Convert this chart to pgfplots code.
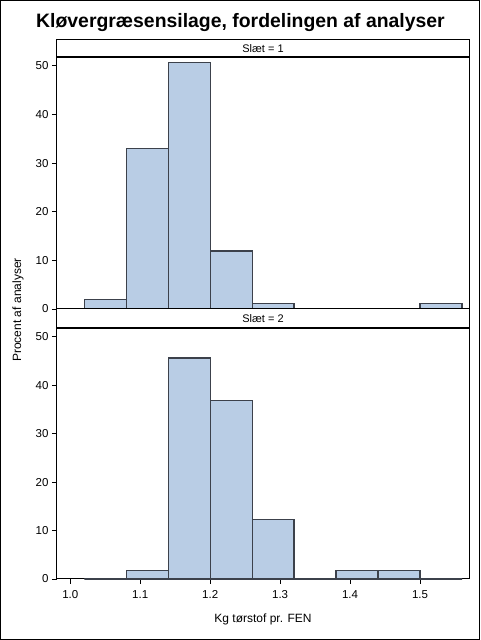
\documentclass[border=0pt]{standalone}
\usepackage{fontspec}
\setmainfont{Liberation Sans}
\usepackage{pgfplots}
\pgfplotsset{compat=1.18}
\definecolor{barfill}{RGB}{185,205,229}
\definecolor{barline}{RGB}{60,65,75}
\pgfplotsset{panel/.style={
  scale only axis, width=412pt, anchor=south west,
  xmin=0.981, xmax=1.570, ymin=0, ymax=51.8,
  axis line style={line width=1pt, black},
  ytick={0,10,20,30,40,50},
  tick align=outside, ytick pos=left, xtick pos=bottom,
  major tick length=5pt,
  tick style={black, line width=0.8pt},
  ticklabel style={font=\fontsize{11.5}{13}\selectfont},
  /pgf/number format/assume math mode=true,
  clip=false,
}}
\begin{document}
\begin{tikzpicture}
\useasboundingbox (0pt,0pt) rectangle (480pt,640pt);
\draw[line width=1pt] (0.5pt,0.5pt) rectangle (479.5pt,639.5pt);
\node[font=\bfseries\fontsize{19.4}{22}\selectfont, anchor=base] at (240.5pt,612pt) {Kløvergræsensilage, fordelingen af analyser};
\node[font=\fontsize{12}{14}\selectfont, rotate=90] at (18pt,330pt) {Procent af analyser};
\node[font=\fontsize{12}{14}\selectfont, anchor=base] at (263pt,17pt) {Kg tørstof pr. FEN};

% top panel
\begin{axis}[panel, height=252pt, at={(57pt,331pt)}, xtick=\empty]
\addplot[ybar interval, fill=barfill, draw=barline, line width=1.3pt] coordinates {
 (1.02,1.9) (1.08,33.0) (1.14,50.6) (1.20,11.9) (1.26,1.2) (1.32,0) (1.38,0) (1.44,0) (1.50,1.2) (1.56,0)};
\draw[line width=1pt, fill=white] (rel axis cs:0,1) rectangle ([yshift=17pt]rel axis cs:1,1);
\draw[line width=2.5pt] (rel axis cs:0,1) -- (rel axis cs:1,1);
\draw[line width=2.5pt] (rel axis cs:0,0) -- (rel axis cs:1,0);
\node[font=\fontsize{11}{13}\selectfont] at ([yshift=8.5pt]rel axis cs:0.5,1) {Slæt = 1};
\end{axis}

% bottom panel
\begin{axis}[panel, height=251pt, at={(57pt,61pt)},
  xtick={1.0,1.1,1.2,1.3,1.4,1.5},
  xticklabel style={yshift=-3pt, /pgf/number format/.cd, fixed, fixed zerofill, precision=1}]
\addplot[ybar interval, fill=barfill, draw=barline, line width=1.3pt] coordinates {
 (1.02,0) (1.08,1.75) (1.14,45.6) (1.20,36.8) (1.26,12.3) (1.32,0) (1.38,1.75) (1.44,1.75) (1.50,0) (1.56,0)};
\draw[line width=1pt, fill=white] (rel axis cs:0,1) rectangle ([yshift=19pt]rel axis cs:1,1);
\draw[line width=2.5pt] (rel axis cs:0,1) -- (rel axis cs:1,1);
\node[font=\fontsize{11}{13}\selectfont] at ([yshift=9.5pt]rel axis cs:0.5,1) {Slæt = 2};
\end{axis}
\end{tikzpicture}
\end{document}
